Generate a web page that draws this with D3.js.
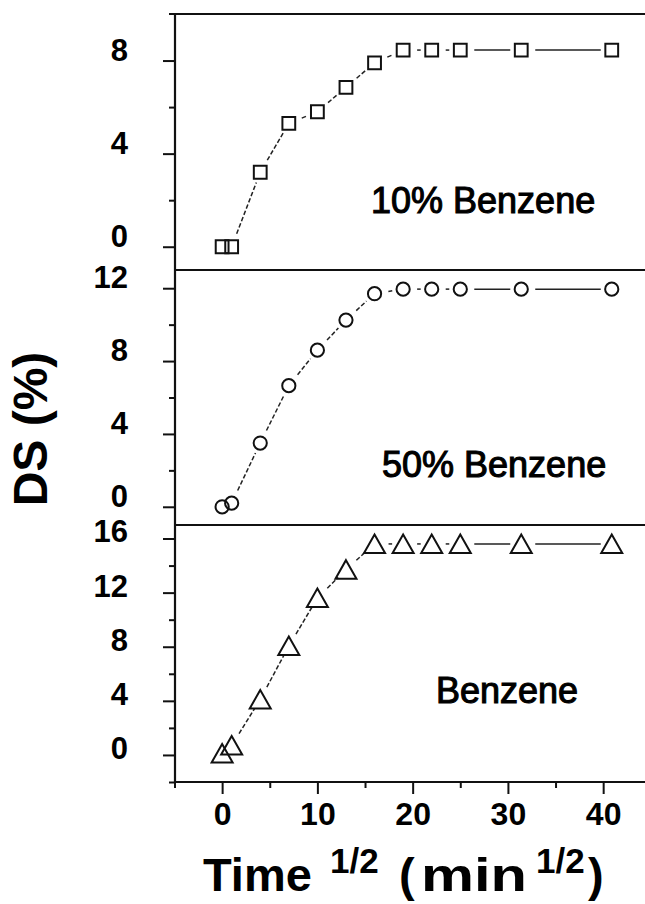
<!DOCTYPE html>
<html>
<head>
<meta charset="utf-8">
<script src="https://cdn.jsdelivr.net/npm/d3@7/dist/d3.min.js"></script>
<style>
  html, body { margin: 0; padding: 0; background: #fff; }
  svg { display: block; font-family: "Liberation Sans", Arial, sans-serif; }
</style>
</head>
<body>
<svg id="chart" width="645" height="904"></svg>
<script>
// Square root of sampling time, min^1/2
const timeSqrt = [0, 1, 4, 7, 10, 13, 16, 19, 22, 25, 31.4, 40.9];

// Degree of substitution (%) for each solvent system
const ds10Benzene = [0, 0, 3.2, 5.3, 5.8, 6.85, 7.9, 8.45, 8.45, 8.45, 8.45, 8.45];
const ds50Benzene = [0, 0.2, 3.5, 6.65, 8.6, 10.25, 11.7, 11.95, 11.95, 11.95, 11.95, 11.95];
const dsBenzene   = [0.1, 0.7, 4.1, 8.05, 11.6, 13.7, 15.6, 15.6, 15.6, 15.6, 15.6, 15.6];

const panelLabels = ["10% Benzene", "50% Benzene", "Benzene"];

const xTicks = [0, 10, 20, 30, 40];
const xMinorTicks = [-5, 5, 15, 25, 35, 45];
const yTicksTop = [0, 4, 8],        yMinorTop = [2, 6];
const yTicksMid = [0, 4, 8, 12],    yMinorMid = [2, 6, 10];
const yTicksBot = [0, 4, 8, 12, 16], yMinorBot = [-2, 2, 6, 10, 14];

const svg = d3.select("#chart");
const INK = "#111";
const axisX = 175;
const FONT = "'Liberation Sans', Arial, sans-serif";

const x = d3.scaleLinear().domain([-5, 45]).range([174.5, 650.8]);

const panels = [
  { values: ds10Benzene, label: panelLabels[0], domain: [-1, 10], top: 14,  bottom: 270,
    ticks: yTicksTop, minor: yMinorTop, marker: "square",   labelX: 371, labelY: 213, lift: 10 },
  { values: ds50Benzene, label: panelLabels[1], domain: [-1, 13], top: 270, bottom: 525,
    ticks: yTicksMid, minor: yMinorMid, marker: "circle",   labelX: 382, labelY: 477, lift: 10.5 },
  { values: dsBenzene,   label: panelLabels[2], domain: [-2, 17], top: 525, bottom: 782,
    ticks: yTicksBot, minor: yMinorBot, marker: "triangle", labelX: 436, labelY: 703, lift: 6.5 }
];

// marker outlines centred on (0,0)
const markerPaths = {
  square:   "M-6.4,-6.4H6.4V6.4H-6.4Z",
  circle:   d3.symbol(d3.symbolCircle, Math.PI * 6.6 * 6.6)(),
  triangle: "M0,-9.5L10.5,9L-10.5,9Z"
};
// connecting lines stop short of each marker (start / end clearance)
const GAP_START = 14, GAP_END = 11;

panels.forEach(p => {
  const y = d3.scaleLinear().domain(p.domain).range([p.bottom, p.top]);

  // major ticks + labels
  const gMajor = svg.append("g").attr("transform", `translate(${axisX},0)`)
    .call(d3.axisLeft(y).tickValues(p.ticks).tickSize(12).tickPadding(35).tickFormat(d3.format("d")));
  gMajor.select(".domain").remove();
  gMajor.selectAll(".tick line").attr("stroke", INK).attr("stroke-width", 2);
  gMajor.selectAll(".tick text")
    .attr("fill", "#000").attr("font-size", 31).attr("font-weight", "bold")
    .attr("font-family", FONT)
    .attr("y", -p.lift);

  // minor ticks
  const gMinor = svg.append("g").attr("transform", `translate(${axisX},0)`)
    .call(d3.axisLeft(y).tickValues(p.minor).tickSize(6).tickFormat(""));
  gMinor.select(".domain").remove();
  gMinor.selectAll(".tick line").attr("stroke", INK).attr("stroke-width", 2);

  // connecting segments
  const pts = timeSqrt.map((t, i) => [x(t), y(p.values[i])]);
  const segs = [];
  for (let i = 0; i < pts.length - 1; i++) {
    const [x0, y0] = pts[i], [x1, y1] = pts[i + 1];
    const len = Math.hypot(x1 - x0, y1 - y0);
    if (len <= GAP_START + GAP_END + 1) continue;
    const ux = (x1 - x0) / len, uy = (y1 - y0) / len;
    segs.push({
      a: [x0 + ux * GAP_START, y0 + uy * GAP_START],
      b: [x1 - ux * GAP_END, y1 - uy * GAP_END],
      sloped: Math.abs(y1 - y0) > 1
    });
  }
  svg.append("g").selectAll("line").data(segs).join("line")
    .attr("x1", d => d.a[0]).attr("y1", d => d.a[1])
    .attr("x2", d => d.b[0]).attr("y2", d => d.b[1])
    .attr("stroke", "#222").attr("stroke-width", 1.5)
    .attr("stroke-dasharray", d => d.sloped ? "4.5,2.2" : null);

  // markers
  svg.append("g").selectAll("path").data(pts).join("path")
    .attr("transform", d => `translate(${d[0]},${d[1]})`)
    .attr("d", markerPaths[p.marker])
    .attr("fill", "none")
    .attr("stroke", INK).attr("stroke-width", 2);

  // panel label
  svg.append("text")
    .attr("x", p.labelX).attr("y", p.labelY)
    .attr("font-size", 36).attr("fill", "#000")
    .attr("stroke", "#000").attr("stroke-width", 1.1)
    .text(p.label);
});

// frame: left axis and panel separators
svg.append("line").attr("x1", axisX).attr("x2", axisX).attr("y1", 13).attr("y2", 783)
  .attr("stroke", INK).attr("stroke-width", 2.2);
[14, 270, 525, 782].forEach((yy, i) => {
  svg.append("line").attr("x1", i === 0 ? 169 : axisX).attr("x2", 645)
    .attr("y1", yy).attr("y2", yy)
    .attr("stroke", INK).attr("stroke-width", 2.2);
});

// x axis at the bottom of the lowest panel
const gx = svg.append("g").attr("transform", "translate(0,782)")
  .call(d3.axisBottom(x).tickValues(xTicks).tickSize(12).tickPadding(8).tickFormat(d3.format("d")));
gx.select(".domain").remove();
gx.selectAll(".tick line").attr("stroke", INK).attr("stroke-width", 2);
gx.selectAll(".tick text").attr("fill", "#000").attr("font-size", 32).attr("font-weight", "bold")
  .attr("font-family", FONT);
const gxm = svg.append("g").attr("transform", "translate(0,782)")
  .call(d3.axisBottom(x).tickValues(xMinorTicks).tickSize(6).tickFormat(""));
gxm.select(".domain").remove();
gxm.selectAll(".tick line").attr("stroke", INK).attr("stroke-width", 2);

// y axis title
svg.append("text")
  .attr("transform", "translate(47,429) rotate(-90)")
  .attr("text-anchor", "middle")
  .attr("font-size", 48).attr("font-weight", "bold").attr("fill", "#000")
  .text("DS (%)");

// x axis title with superscripts
const xt = svg.append("text").attr("y", 891).attr("font-weight", "bold").attr("fill", "#000");
xt.append("tspan").attr("x", 203).attr("font-size", 47).text("Time");
xt.append("tspan").attr("x", 330).attr("dy", -18).attr("font-size", 35).text("1/2");
xt.append("tspan").attr("x", 399).attr("dy", 18).attr("font-size", 47).text("(");
xt.append("tspan").attr("x", 421).attr("font-size", 47)
  .attr("textLength", 106).attr("lengthAdjust", "spacingAndGlyphs").text("min");
xt.append("tspan").attr("x", 536).attr("dy", -18).attr("font-size", 35).text("1/2");
xt.append("tspan").attr("x", 588).attr("dy", 18).attr("font-size", 47).text(")");
</script>
</body>
</html>
